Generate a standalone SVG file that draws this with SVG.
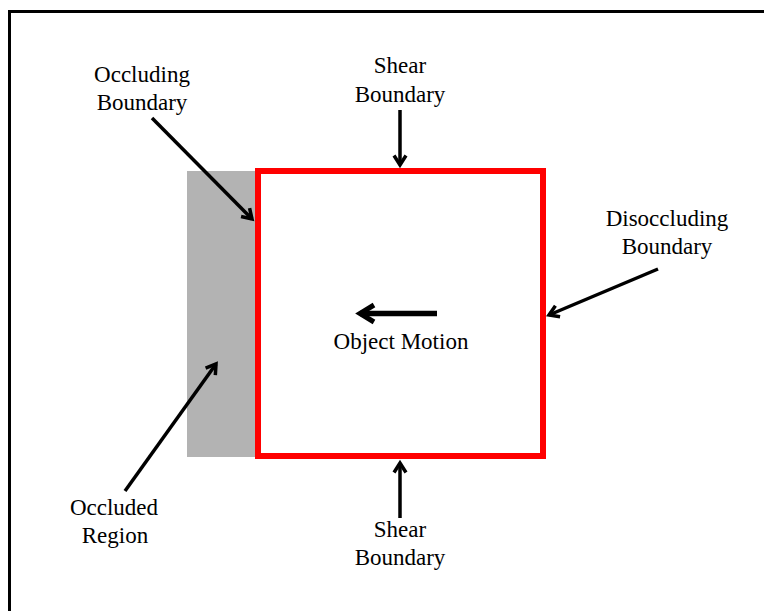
<svg xmlns="http://www.w3.org/2000/svg" width="764" height="611" viewBox="0 0 764 611">
  <style>
    .lbl { font-family: "Liberation Serif", "Times New Roman", serif; font-size: 23px; fill: #000; text-anchor: middle; }
    .arr { stroke: #000; stroke-width: 3.5; fill: none; marker-end: url(#head); }
    .big { stroke: #000; stroke-width: 5.5; fill: none; marker-end: url(#headBig); }
  </style>
  <defs>
    <marker id="head" markerUnits="userSpaceOnUse" viewBox="0 0 14 14" markerWidth="14" markerHeight="14" refX="11" refY="7" orient="auto" overflow="visible">
      <path d="M1.5,1 L11,7 L1.5,13" fill="none" stroke="#000" stroke-width="3.5"/>
    </marker>
    <marker id="headBig" markerUnits="userSpaceOnUse" viewBox="0 0 22 22" markerWidth="22" markerHeight="22" refX="17" refY="11" orient="auto" overflow="visible">
      <path d="M3,2.5 L17,11 L3,19.5" fill="none" stroke="#000" stroke-width="5"/>
    </marker>
  </defs>

  <rect width="764" height="611" fill="#fff"/>

  <!-- frame (top and left edges) -->
  <path d="M9.5,611 L9.5,11.5 L764,11.5" fill="none" stroke="#000" stroke-width="3"/>

  <!-- occluded region behind the object -->
  <g id="occluded-region">
    <rect x="187" y="171" width="71" height="286" fill="#b3b3b3"/>
  </g>

  <!-- moving object -->
  <g id="object">
    <rect x="258" y="171" width="285" height="285" fill="none" stroke="#ff0000" stroke-width="6"/>
  </g>

  <g id="connectors">
    <line class="arr" x1="152" y1="118" x2="252" y2="219"/>
    <line class="arr" x1="400" y1="110" x2="400" y2="165"/>
    <line class="arr" x1="658" y1="269" x2="549" y2="315"/>
    <line class="arr" x1="400" y1="518" x2="400" y2="463"/>
    <line class="arr" x1="125" y1="491" x2="216" y2="364"/>
    <line class="big" x1="437" y1="313.5" x2="360" y2="313.5"/>
  </g>

  <g id="label-occluding">
    <text class="lbl" x="142" y="82">Occluding</text>
    <text class="lbl" x="142" y="110">Boundary</text>
  </g>
  <g id="label-shear-top">
    <text class="lbl" x="400" y="73">Shear</text>
    <text class="lbl" x="400" y="101.5">Boundary</text>
  </g>
  <g id="label-disoccluding">
    <text class="lbl" x="667" y="226">Disoccluding</text>
    <text class="lbl" x="667" y="254">Boundary</text>
  </g>
  <g id="label-motion">
    <text class="lbl" x="401" y="349">Object Motion</text>
  </g>
  <g id="label-shear-bottom">
    <text class="lbl" x="400" y="537">Shear</text>
    <text class="lbl" x="400" y="565">Boundary</text>
  </g>
  <g id="label-occluded">
    <text class="lbl" x="114" y="515">Occluded</text>
    <text class="lbl" x="115" y="543">Region</text>
  </g>
</svg>
